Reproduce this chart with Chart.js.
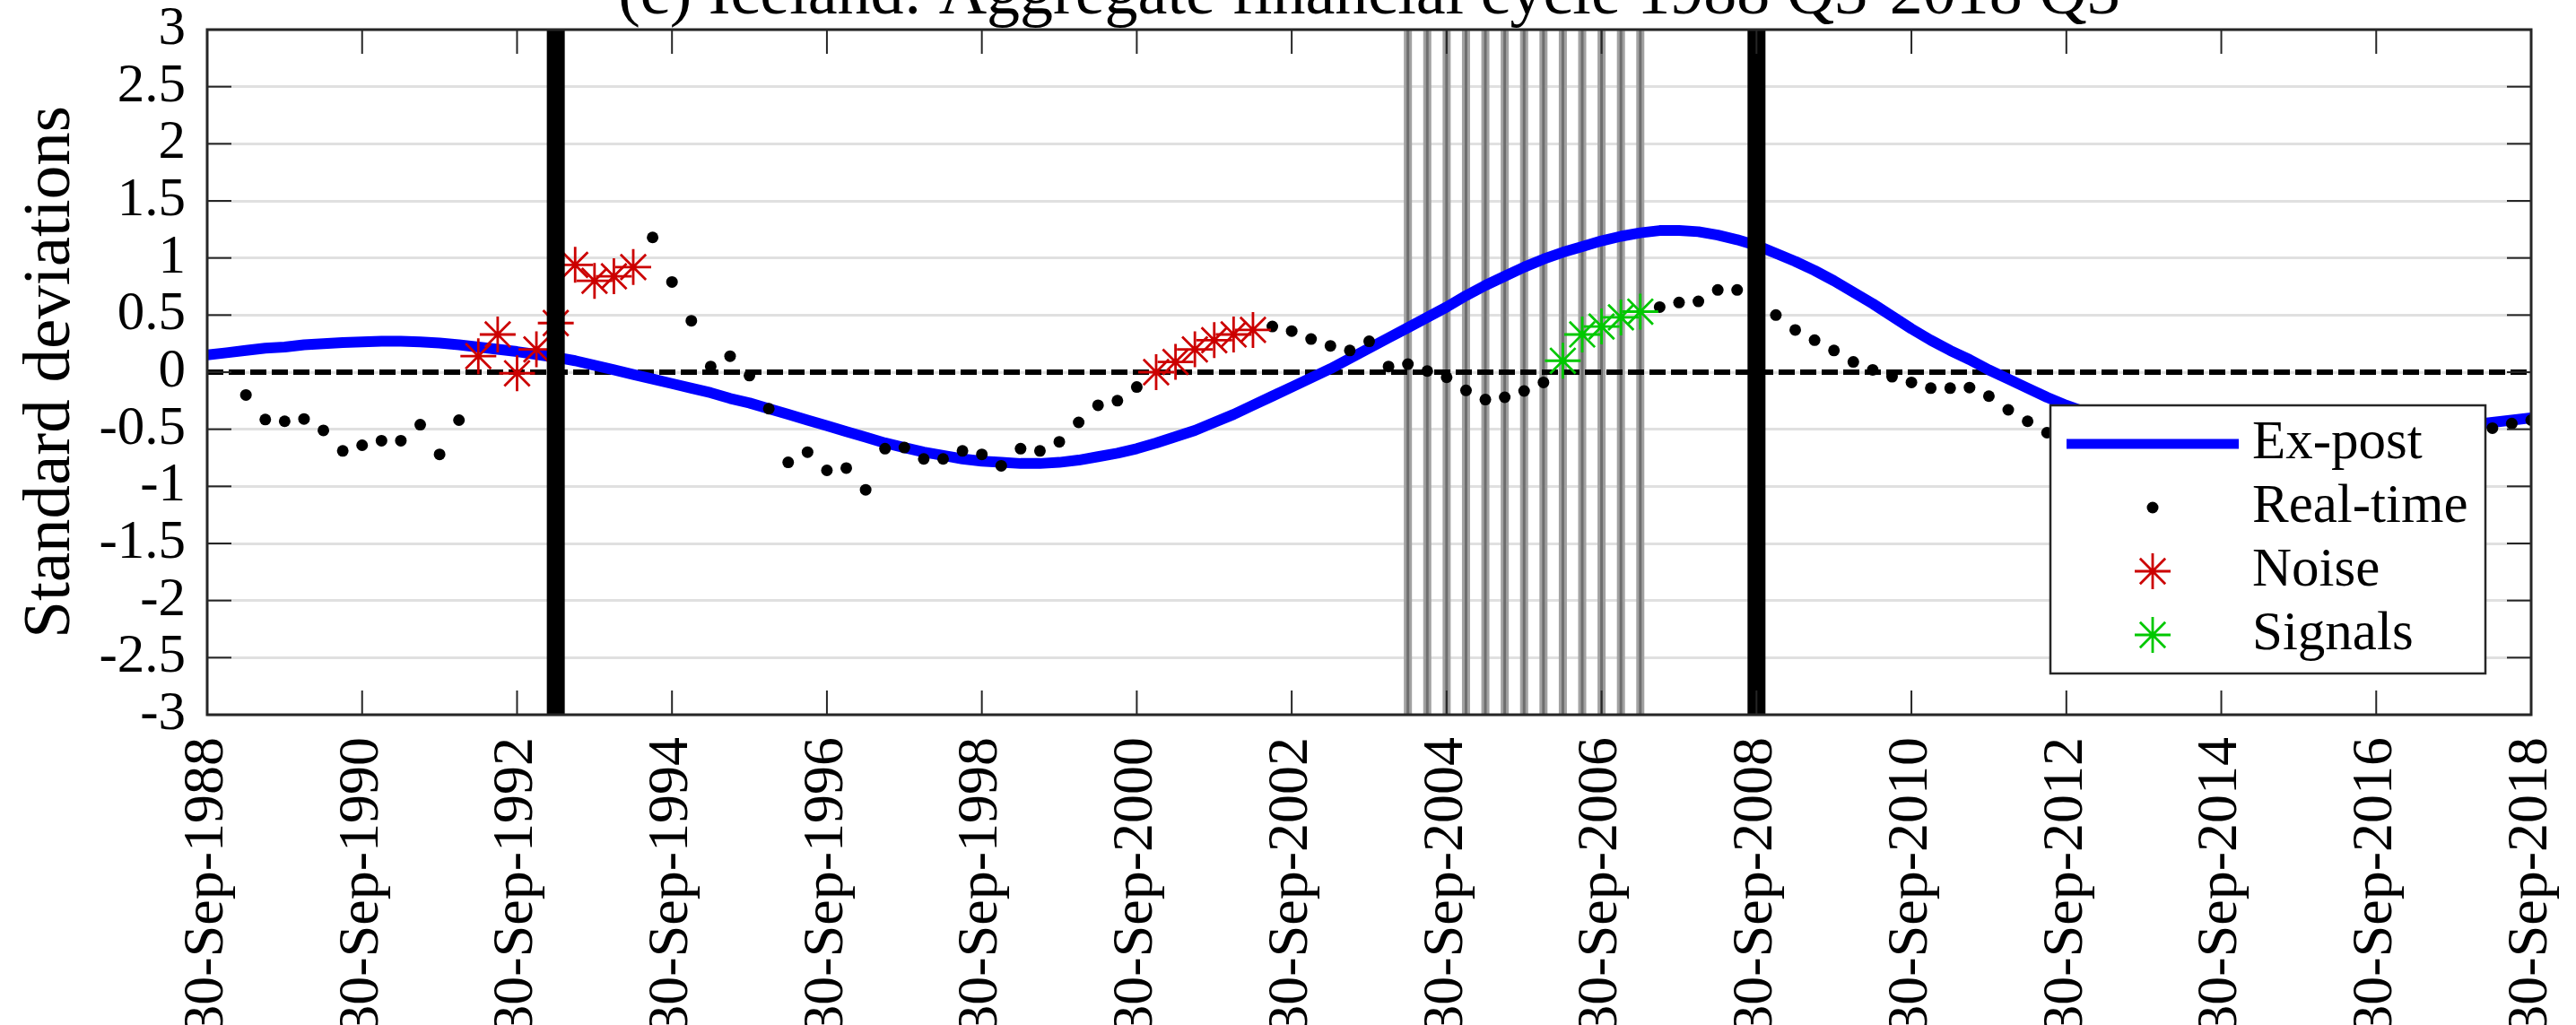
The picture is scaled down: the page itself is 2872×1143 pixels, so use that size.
<!DOCTYPE html>
<html>
<head>
<meta charset="utf-8">
<title>Iceland: aggregate financial cycle</title>
<script src="https://cdn.jsdelivr.net/npm/chart.js@4.4.1/dist/chart.umd.min.js"></script>
<style>
  html, body { margin: 0; padding: 0; background: #fff; overflow: hidden; }
  #wrap { width: 2872px; height: 1143px; position: relative; }
</style>
</head>
<body>
<div id="wrap"><canvas id="cycleChart"></canvas></div>
<script>
// Quarterly series, index 0 = 1988 Q3 ... 120 = 2018 Q3
const chartTitle = "(c) Iceland: Aggregate financial cycle 1988 Q3-2018 Q3";
const yAxisTitle = "Standard deviations";

const xTickLabels = ["30-Sep-1988", "30-Sep-1990", "30-Sep-1992", "30-Sep-1994",
  "30-Sep-1996", "30-Sep-1998", "30-Sep-2000", "30-Sep-2002", "30-Sep-2004",
  "30-Sep-2006", "30-Sep-2008", "30-Sep-2010", "30-Sep-2012", "30-Sep-2014",
  "30-Sep-2016", "30-Sep-2018"];
const xTickStep = 8; // quarters between date labels

const yTickValues = [-3, -2.5, -2, -1.5, -1, -0.5, 0, 0.5, 1, 1.5, 2, 2.5, 3];
const yTickLabels = ["-3", "-2.5", "-2", "-1.5", "-1", "-0.5", "0", "0.5", "1", "1.5", "2", "2.5", "3"];

const legendLabels = ["Ex-post", "Real-time", "Noise", "Signals"];

// ex-post (two-sided) cycle estimate
const exPost = [
  0.15, 0.17, 0.19, 0.21, 0.22, 0.24, 0.25, 0.26, 0.265, 0.27,
  0.27, 0.265, 0.255, 0.24, 0.22, 0.2, 0.18, 0.155, 0.13, 0.1,
  0.06, 0.02, -0.02, -0.06, -0.1, -0.14, -0.18, -0.23, -0.27, -0.32,
  -0.37, -0.42, -0.47, -0.52, -0.57, -0.62, -0.66, -0.7, -0.73, -0.76,
  -0.78, -0.79, -0.8, -0.8, -0.79, -0.77, -0.74, -0.71, -0.67, -0.62,
  -0.565, -0.51, -0.44, -0.37, -0.29, -0.21, -0.13, -0.05, 0.03, 0.12,
  0.21, 0.3, 0.39, 0.48, 0.57, 0.67, 0.76, 0.84, 0.92, 0.99,
  1.05, 1.1, 1.15, 1.19, 1.22, 1.24, 1.24, 1.23, 1.2, 1.16,
  1.11, 1.04, 0.97, 0.89, 0.8, 0.7, 0.6, 0.49, 0.38, 0.28,
  0.19, 0.11, 0.02, -0.06, -0.14, -0.22, -0.29, -0.35, -0.41, -0.46,
  -0.5, -0.53, -0.56, -0.58, -0.6, -0.61, -0.62, -0.62, -0.62, -0.61,
  -0.6, -0.58, -0.56, -0.54, -0.52, -0.5, -0.48, -0.46, -0.44, -0.42,
  -0.4
];

// real-time (one-sided) estimate; null where no estimate is shown
const realTime = [
  null, null, -0.2, -0.415, -0.43, -0.41, -0.51, -0.69, -0.64, -0.6,
  -0.6, -0.46, -0.72, -0.42, 0.14, 0.33, -0.01, 0.2, 0.43, 0.94,
  0.8, 0.84, 0.92, 1.18, 0.79, 0.45, 0.05, 0.14, -0.03, -0.32,
  -0.79, -0.7, -0.86, -0.84, -1.03, -0.67, -0.66, -0.76, -0.76, -0.69,
  -0.72, -0.82, -0.67, -0.69, -0.61, -0.44, -0.29, -0.25, -0.13, 0,
  0.09, 0.2, 0.28, 0.33, 0.37, 0.4, 0.36, 0.29, 0.23, 0.19,
  0.27, 0.05, 0.07, 0.01, -0.045, -0.16, -0.24, -0.22, -0.165, -0.09,
  0.1, 0.33, 0.4, 0.48, 0.53, 0.57, 0.61, 0.62, 0.72, 0.72,
  0.62, 0.5, 0.37, 0.28, 0.19, 0.09, 0.02, -0.04, -0.09, -0.14,
  -0.14, -0.135, -0.21, -0.33, -0.43, -0.53, null, null, null, null,
  null, null, null, null, null, null, null, null, null, null,
  null, null, null, null, null, null, null, null, -0.49, -0.45,
  -0.42
];

// quarters where the real-time reading is flagged
const noiseQuarters = [14, 15, 16, 17, 18, 19, 20, 21, 22, 49, 50, 51, 52, 53, 54];
const signalQuarters = [70, 71, 72, 73, 74];

// vertical markers
const crisisQuarters = [18, 80];
const preCrisisQuarters = [62, 63, 64, 65, 66, 67, 68, 69, 70, 71, 72, 73, 74];

const FONT = '"Liberation Serif", "Times New Roman", serif';
const AXIS_COLOR = "#262626";
const TICK_LEN = 27;
const NOISE_COLOR = "#cc0000";
const SIGNAL_COLOR = "#00c800";
const STAR_R = 20;
const STAR_W = 2.8;

function toPoints(quarters) {
  return quarters.map(q => ({ x: q, y: realTime[q] }));
}

const flagged = new Set(noiseQuarters.concat(signalQuarters));
const realTimePoints = [];
realTime.forEach((v, q) => {
  if (v !== null && !flagged.has(q)) realTimePoints.push({ x: q, y: v });
});

function strokeLine(ctx, x1, y1, x2, y2) {
  ctx.beginPath();
  ctx.moveTo(x1, y1);
  ctx.lineTo(x2, y2);
  ctx.stroke();
}

function drawStar(ctx, x, y, r, color, width) {
  ctx.save();
  ctx.strokeStyle = color;
  ctx.lineWidth = width;
  const d = r * Math.SQRT1_2;
  ctx.beginPath();
  ctx.moveTo(x - r, y); ctx.lineTo(x + r, y);
  ctx.moveTo(x, y - r); ctx.lineTo(x, y + r);
  ctx.moveTo(x - d, y - d); ctx.lineTo(x + d, y + d);
  ctx.moveTo(x - d, y + d); ctx.lineTo(x + d, y - d);
  ctx.stroke();
  ctx.restore();
}

// vertical markers, axes box with inward ticks, legend and titles
const decorations = {
  id: "decorations",
  beforeDatasetsDraw(chart) {
    const { ctx, chartArea: a, scales: { x } } = chart;
    ctx.save();
    preCrisisQuarters.forEach(q => {
      const px = x.getPixelForValue(q);
      ctx.strokeStyle = "#a2a2a2";
      ctx.lineWidth = 9;
      strokeLine(ctx, px, a.top, px, a.bottom);
      ctx.strokeStyle = "#6e6e6e";
      ctx.lineWidth = 3;
      strokeLine(ctx, px, a.top, px, a.bottom);
    });
    ctx.restore();
  },
  afterDatasetsDraw(chart) {
    const { ctx, chartArea: a, scales: { x, y } } = chart;
    ctx.save();
    ctx.strokeStyle = "#000";
    ctx.lineWidth = 20;
    crisisQuarters.forEach(q => {
      const px = x.getPixelForValue(q);
      strokeLine(ctx, px, a.top, px, a.bottom);
    });

    // inward ticks on all four sides
    ctx.strokeStyle = AXIS_COLOR;
    ctx.lineWidth = 2;
    xTickLabels.forEach((_, i) => {
      const px = x.getPixelForValue(i * xTickStep);
      strokeLine(ctx, px, a.bottom, px, a.bottom - TICK_LEN);
      strokeLine(ctx, px, a.top, px, a.top + TICK_LEN);
    });
    yTickValues.forEach(v => {
      const py = y.getPixelForValue(v);
      strokeLine(ctx, a.left, py, a.left + TICK_LEN, py);
      strokeLine(ctx, a.right, py, a.right - TICK_LEN, py);
    });

    ctx.lineWidth = 3;
    ctx.strokeRect(a.left, a.top, a.right - a.left, a.bottom - a.top);
    ctx.restore();
  },
  afterDraw(chart) {
    const { ctx, chartArea: a } = chart;
    ctx.save();

    // legend box in the lower right of the axes
    const w = 485, h = 299;
    const lx = a.right - 51 - w;
    const ly = a.top + 419;
    ctx.fillStyle = "#fff";
    ctx.fillRect(lx, ly, w, h);
    ctx.strokeStyle = AXIS_COLOR;
    ctx.lineWidth = 2.5;
    ctx.strokeRect(lx, ly, w, h);

    const rowY = [43, 114, 185, 256].map(d => ly + d);
    const symX = lx + 114;
    ctx.strokeStyle = "#0000ff";
    ctx.lineWidth = 11;
    strokeLine(ctx, lx + 18, rowY[0], lx + 210, rowY[0]);
    ctx.fillStyle = "#000";
    ctx.beginPath();
    ctx.arc(symX, rowY[1], 6.5, 0, Math.PI * 2);
    ctx.fill();
    drawStar(ctx, symX, rowY[2], STAR_R, NOISE_COLOR, STAR_W);
    drawStar(ctx, symX, rowY[3], STAR_R, SIGNAL_COLOR, STAR_W);

    ctx.fillStyle = "#000";
    ctx.font = "61px " + FONT;
    ctx.textAlign = "left";
    ctx.textBaseline = "middle";
    legendLabels.forEach((t, i) => ctx.fillText(t, lx + 225, rowY[i]));

    // title, sitting at the very top edge
    ctx.font = "74px " + FONT;
    ctx.textAlign = "center";
    ctx.textBaseline = "alphabetic";
    ctx.fillText(chartTitle, (a.left + a.right) / 2, 15);

    // y axis title
    ctx.translate(77, (a.top + a.bottom) / 2);
    ctx.rotate(-Math.PI / 2);
    ctx.font = "75px " + FONT;
    ctx.fillText(yAxisTitle, 0, 0);
    ctx.restore();
  }
};

const starStyle = color => ({
  pointStyle: "star",
  pointRadius: STAR_R,
  pointBorderColor: color,
  pointBackgroundColor: color,
  pointBorderWidth: STAR_W,
  showLine: false
});

new Chart(document.getElementById("cycleChart"), {
  type: "line",
  data: {
    datasets: [
      {
        label: "Ex-post",
        data: exPost.map((v, q) => ({ x: q, y: v })),
        borderColor: "#0000ff",
        borderWidth: 12,
        pointRadius: 0,
        tension: 0,
        borderJoinStyle: "round",
        order: 4
      },
      {
        label: "zero",
        data: [{ x: 0, y: 0 }, { x: 120, y: 0 }],
        borderColor: "#000",
        borderWidth: 6,
        borderDash: [18, 6],
        pointRadius: 0,
        order: 5
      },
      {
        label: "Real-time",
        data: realTimePoints,
        showLine: false,
        pointRadius: 6.5,
        pointBackgroundColor: "#000",
        pointBorderWidth: 0,
        order: 3
      },
      Object.assign({ label: "Noise", data: toPoints(noiseQuarters), order: 2 }, starStyle(NOISE_COLOR)),
      Object.assign({ label: "Signals", data: toPoints(signalQuarters), order: 1 }, starStyle(SIGNAL_COLOR))
    ]
  },
  options: {
    responsive: true,
    maintainAspectRatio: false,
    devicePixelRatio: 1,
    animation: false,
    events: [],
    layout: { padding: { top: 33, right: 50, left: 0, bottom: 0 } },
    plugins: {
      legend: { display: false },
      title: { display: false },
      tooltip: { enabled: false }
    },
    scales: {
      x: {
        type: "linear",
        min: 0,
        max: (xTickLabels.length - 1) * xTickStep,
        afterBuildTicks: s => { s.ticks = xTickLabels.map((_, i) => ({ value: i * xTickStep })); },
        afterFit: s => { s.height = 346; s.paddingLeft = 0; s.paddingRight = 0; },
        grid: { display: false, drawTicks: false },
        border: { display: false },
        ticks: {
          autoSkip: false,
          minRotation: 90,
          maxRotation: 90,
          padding: 25,
          color: "#000",
          font: { family: FONT, size: 64 },
          callback: v => xTickLabels[Math.round(v / xTickStep)]
        }
      },
      y: {
        min: -3,
        max: 3,
        afterBuildTicks: s => { s.ticks = yTickValues.map(v => ({ value: v })); },
        afterFit: s => { s.width = 231; s.paddingTop = 0; s.paddingBottom = 0; },
        grid: { color: "#e0e0e0", lineWidth: 3, drawTicks: false },
        border: { display: false },
        ticks: {
          autoSkip: false,
          padding: 24,
          color: "#000",
          font: { family: FONT, size: 61 },
          callback: v => yTickLabels[yTickValues.indexOf(v)]
        }
      }
    }
  },
  plugins: [decorations]
});
</script>
</body>
</html>
